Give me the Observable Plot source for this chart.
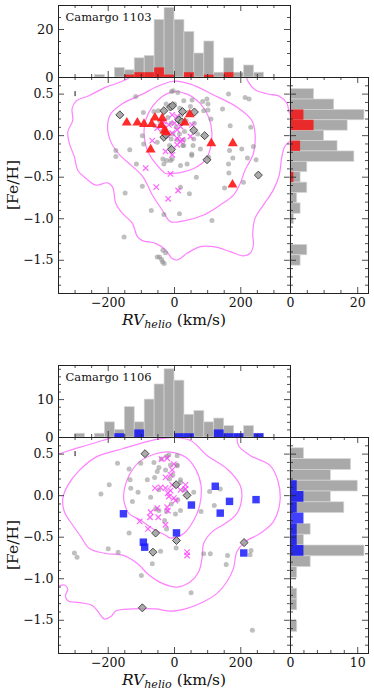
<!DOCTYPE html>
<html><head><meta charset="utf-8">
<script src="https://cdn.jsdelivr.net/npm/d3@7"></script>
<script src="https://cdn.jsdelivr.net/npm/@observablehq/plot@0.6"></script>
<style>
body{margin:0;background:white;}
#chart{position:relative;width:374px;height:693px;background:white;color:#111;overflow:hidden;}
.lab{position:absolute;font-family:"DejaVu Serif",serif;font-size:15.5px;white-space:nowrap;color:#111;}
</style></head><body><div id="chart"></div>
<script>
// ---------- RV histogram bins (km/s) ----------
const rvEdges = [-300,-270,-240,-210,-180,-150,-120,-90,-60,-30,0,30,60,90,120,150,180,210,240,270];
const rvCounts1103All = [0,0,1,0,4,3,8,9,24,29,24,19,10,15,2,8,2,5,2];
const rvCounts1103Sel = [0,0,0,0,0,1,2,2,4,1,0,2,0,1,0,2,0,0,0];
const rvCounts1106All = [1,0,1,4,2,8,4,10,14,18,15,6,7,4,5,3,1,3,1];
const rvCounts1106Sel = [0,0,0,0,1,0,2,0,0,0,1,1,0,0,2,1,1,0,1];
// ---------- [Fe/H] histogram bins ----------
const fehEdges1103 = [0.56,0.435,0.31,0.185,0.06,-0.065,-0.19,-0.315,-0.44,-0.565,-0.69,-0.815,-0.94,-1.065,-1.19,-1.315,-1.44,-1.565];
const fehCounts1103All = [7,13,22,17,10,14,19,5,3,5,2,3,1,0,0,5,3];
const fehCounts1103Sel = [0,0,4,7,0,3,0,0,1,0,0,0,0,0,0,0,0];
const fehEdges1106 = [0.57,0.44,0.31,0.18,0.05,-0.08,-0.21,-0.34,-0.47,-0.60,-0.73,-0.86,-0.99,-1.12,-1.25,-1.38,-1.51,-1.64];
const fehCounts1106All = [2,9,6,10,6,8,0,3,2,11,3,1,0,1,1,0,1];
const fehCounts1106Sel = [0,0,0,1,2,1,2,1,1,2,0,0,0,0,0,0,0];
// ---------- tick labels ----------
const rvTickLabels = [-200,0,200];
const fehTickLabels = [0.5,0,-0.5,-1,-1.5];
const histTicks1103 = [0,20];
const histTicks1106 = [0,10];
// ---------- Camargo 1103 points [RV, Fe/H] ----------
const field1103 = [[-117,0.47],[-94,0.28],[-62,0.29],[-49,0.30],[-9,0.53],[-4,0.54],[10,0.52],[28,0.42],[53,0.43],[85,0.41],[98,0.44],[101,0.38],[88,0.30],[101,0.31],[145,0.32],[163,0.50],[213,0.46],[225,0.44],[168,0.12],[230,0.10],[110,0.20],
[-97,0.00],[-93,-0.10],[-52,-0.08],[-177,-0.18],[-177,-0.25],[-135,-0.17],[-115,-0.34],[-35,-0.28],[-12,-0.30],[-32,-0.34],[-24,-0.30],[-7,-0.28],
[56,-0.12],[78,-0.16],[52,-0.22],[52,-0.24],[38,-0.34],[18,-0.36],[103,-0.26],[166,-0.18],[176,-0.27],[163,-0.34],[203,-0.16],[220,-0.27],[238,-0.13],[246,-0.29],[164,-0.45],[151,-0.63],[208,-0.56],[66,-0.50],[18,-0.62],[45,-0.70],[15,-0.94],[113,-1.02],[-97,-0.61],[-149,-0.69],[-70,-0.90],[-32,-0.95],[-152,-1.22],
[-35,-1.38],[-27,-1.41],[-45,-1.46],[-39,-1.49],[-52,-1.46],[-31,-1.54],[-36,-1.52],
[-20,0.22],[-10,0.15],[5,0.10],[20,0.25],[35,0.18],[-30,0.10],[-45,0.18],[15,0.02],[30,0.05],[40,0.28],[-5,0.02],[8,-0.05],[25,-0.12],[-15,-0.12],[60,0.15],[-60,0.12],[70,0.02],[0,0.38],[-25,0.38],[48,0.35],[16,0.33],[-38,0.05],[28,-0.05],[58,-0.04],[28,-0.12],[-10,-0.04]];
const diamonds1103 = [[-165,0.25],[-32,0.30],[-12,0.345],[-6,0.36],[24,0.29],[60,0.285],[13,0.19],[22,0.165],[58,0.065],[91,0.0],[-32,-0.02],[-26,0.01],[-9,-0.165],[98,-0.29],[253,-0.475]];
const crosses1103 = [[-7,0.25],[8,0.23],[0,0.15],[-17,0.13],[-32,0.17],[-42,0.11],[-52,0.09],[8,0.07],[18,0.11],[-7,0.03],[-22,0.01],[8,-0.03],[23,-0.05],[8,-0.11],[-7,-0.23],[48,-0.01],[53,0.13],[-67,-0.06],[-87,-0.39],[-12,-0.46],[-55,-0.62],[11,-0.66],[-19,-0.76],[18,-0.07],[-27,-0.19]];
const members1103 = [[-144,0.156],[-112,0.156],[-92,0.14],[-69,0.14],[-59,0.216],[-37,0.208],[-39,0.128],[-30,0.06],[-25,0.04],[-72,-0.168],[31,0.156],[46,0.256],[111,-0.092],[176,-0.092],[175,-0.59]];
// ---------- Camargo 1106 points ----------
const field1106 = [[-172,0.39],[-137,0.32],[-134,0.19],[-197,0.13],[-222,0.02],[-132,0.09],[-127,-0.07],[-110,0.04],[-102,0.39],[-82,0.19],[-72,-0.02],[-62,0.40],[-40,0.44],[-24,0.47],[-17,0.49],[-12,0.37],[8,0.37],[-27,0.31],[-52,0.29],[-47,0.07],[-57,-0.16],[-47,-0.18],[-24,-0.19],[18,-0.18],[3,-0.22],[18,0.19],[58,0.04],[80,-0.19],[106,0.05],[138,0.08],[120,-0.12],[-24,-0.40],[-137,-0.45],[-200,-0.64],[-170,-0.68],[-302,-0.69],[-294,-0.74],[-42,-0.67],[5,-0.63],[-67,-0.82],[-100,-0.96],[88,-0.70],[108,-0.70],[160,-0.72],[156,-0.83],[228,-0.71],[231,-0.66],[50,-1.17],[235,-1.62],[8,0.48],[8,0.36],[18,0.16],[28,0.07],[-5,0.25],[-15,0.20],[10,-0.05],[-30,-0.30],[-10,-0.10],[-47,0.34],[-60,0.22]];
const diamonds1106 = [[-89,0.505],[5,0.132],[38,0.004],[-57,-0.45],[6,-0.54],[-65,-0.68],[210,-0.565],[-97,-1.35]];
const crosses1106 = [[-39,0.44],[-22,0.45],[-2,0.38],[-7,0.31],[-27,0.22],[-12,0.25],[-59,0.09],[-42,0.10],[-27,0.09],[-12,0.06],[-17,-0.01],[-2,-0.03],[3,-0.06],[18,0.07],[33,0.13],[33,0.08],[-72,-0.20],[-74,-0.26],[-49,-0.26],[-52,-0.15],[-22,-0.14],[-20,-0.18],[-105,-0.31],[-80,-0.40],[-27,-0.35],[38,-0.68],[38,-0.72],[-7,0.13],[-20,0.03]];
const members1106 = [[-154,-0.218],[-94,-0.56],[-90,-0.62],[6,-0.448],[51,-0.113],[123,0.113],[166,-0.069],[138,-0.21],[209,-0.69],[246,-0.048]];
// ---------- density contours [RV, Fe/H] ----------
const contourInner1103 = [[-2,0.53],[38,0.50],[78,0.385],[103,0.225],[113,0.025],[108,-0.155],[93,-0.295],[58,-0.395],[18,-0.445],[-12,-0.455],[-27,-0.455],[-57,-0.335],[-82,-0.175],[-92,0.045],[-87,0.185],[-67,0.35],[-37,0.47]];
const contourMid1103 = [[-2,0.655],[48,0.62],[118,0.49],[188,0.345],[233,0.185],[243,0.025],[238,-0.215],[213,-0.415],[198,-0.575],[178,-0.715],[138,-0.835],[88,-0.955],[28,-1.025],[-12,-1.035],[-37,-0.895],[-67,-0.715],[-95,-0.495],[-127,-0.37],[-167,-0.225],[-192,-0.075],[-202,0.105],[-192,0.265],[-157,0.385],[-97,0.5],[-47,0.6]];
const contourOuterA1103 = [[-117,0.76],[-147,0.672],[-207,0.584],[-257,0.484],[-297,0.416],[-309,0.324],[-307,0.184],[-322,0.044],[-317,-0.096],[-302,-0.256],[-292,-0.416],[-267,-0.516],[-237,-0.596],[-202,-0.568],[-187,-0.616],[-177,-0.816],[-157,-0.936],[-127,-1.056],[-112,-1.216],[-97,-1.264],[-57,-1.296],[-27,-1.376],[-7,-1.48],[8,-1.496],[38,-1.416],[78,-1.336],[118,-1.336],[168,-1.396],[208,-1.448],[228,-1.416],[238,-1.316],[236,-1.176],[243,-0.996],[268,-0.836],[298,-0.656],[316,-0.476],[323,-0.276],[333,-0.128],[353,-0.056],[375,-0.01]];
const contourOuterB1103 = [[213,0.76],[223,0.644],[243,0.552],[278,0.504],[318,0.472],[340,0.384],[348,0.264],[378,0.224]];
const contourInner1106 = [[-12,0.525],[33,0.464],[63,0.324],[80,0.124],[76,-0.116],[58,-0.296],[28,-0.456],[-12,-0.51],[-27,-0.476],[-67,-0.396],[-102,-0.296],[-137,-0.216],[-152,-0.076],[-152,0.064],[-137,0.244],[-107,0.404],[-57,0.504]];
const contourMid1106 = [[-50,0.68],[0,0.70],[50,0.66],[98,0.484],[158,0.324],[198,0.124],[203,-0.036],[188,-0.216],[153,-0.336],[113,-0.436],[88,-0.576],[83,-0.756],[73,-0.916],[48,-1.036],[8,-1.1],[-37,-1.056],[-77,-0.956],[-112,-0.816],[-157,-0.716],[-207,-0.696],[-257,-0.636],[-282,-0.496],[-307,-0.356],[-332,-0.196],[-337,-0.036],[-322,0.124],[-287,0.304],[-237,0.464],[-157,0.564],[-107,0.624]];
const contourOuterA1106 = [[-375,0.47],[-357,0.492],[-347,0.504],[-317,0.544],[-267,0.604],[-217,0.664],[-187,0.704],[-157,0.764]];
const contourOuterB1106 = [[185,0.77],[188,0.724],[193,0.604],[228,0.484],[288,0.364],[313,0.164],[318,-0.076],[298,-0.316],[258,-0.456],[213,-0.556],[188,-0.676],[178,-0.876],[158,-1.036],[128,-1.176],[88,-1.276],[38,-1.356],[-12,-1.39],[-57,-1.364],[-127,-1.364],[-177,-1.388],[-192,-1.456],[-212,-1.484],[-227,-1.416],[-247,-1.324],[-287,-1.288],[-322,-1.264],[-329,-1.204],[-322,-1.124],[-332,-1.076],[-357,-1.096],[-375,-1.1]];
const errBar = {rv: -300, lo: 0.47, hi: 0.53};

// ---------- helpers ----------
const FONT = '"DejaVu Serif", serif';
const INK = "#222";
const CONTOUR = "#ff82ff";
const binRows = (edges, counts) => counts.map((n, i) => ({lo: edges[i], hi: edges[i + 1], n}));
const rows = (list) => list.flatMap(([id, pts]) => pts.map(p => ({id, rv: p[0], feh: p[1]})));
const minus = (s) => s.replace("-", "\u2212");
const rvMajor = [-200, 0, 200];
const rvMinor = d3.range(-350, 351, 50).filter(d => d % 200 !== 0);
const fehMajor = [-1.5, -1, -0.5, 0, 0.5];
const fehMinor = d3.range(-19, 8).map(d => d / 10).filter(d => Math.abs(d * 2 - Math.round(d * 2)) > 1e-6);

function ticks({xMaj = [], xMin = [], yMaj = [], yMin = [], W, H}) {
  const o = {stroke: INK, strokeWidth: 0.8};
  return [
    Plot.ruleX(xMaj, {...o, insetTop: H - 6}), Plot.ruleX(xMaj, {...o, insetBottom: H - 6}),
    Plot.ruleX(xMin, {...o, insetTop: H - 3}), Plot.ruleX(xMin, {...o, insetBottom: H - 3}),
    Plot.ruleY(yMaj, {...o, insetRight: W - 6}), Plot.ruleY(yMaj, {...o, insetLeft: W - 6}),
    Plot.ruleY(yMin, {...o, insetRight: W - 3}), Plot.ruleY(yMin, {...o, insetLeft: W - 3})
  ];
}
function place(svg, top) {
  svg.style.position = "absolute";
  svg.style.left = "0px";
  svg.style.top = top + "px";
  svg.style.background = "transparent";
  svg.style.overflow = "visible";
  svg.style.fontFamily = FONT;
  svg.style.fontSize = "12px";
  svg.style.maxWidth = "none";
  document.getElementById("chart").appendChild(svg);
}
function label(html, x, y, rotate) {
  const d = document.createElement("div");
  d.className = "lab";
  d.innerHTML = html;
  d.style.left = x + "px";
  d.style.top = y + "px";
  d.style.transform = "translate(-50%,-50%)" + (rotate ? " rotate(-90deg)" : "");
  document.getElementById("chart").appendChild(d);
}

function panel(cfg, top) {
  const baseStyle = {fontFamily: FONT, fontSize: "12px", background: "transparent", overflow: "visible"};
  // top RV histogram
  const rvMaxMinor = d3.range(0, cfg.rvMax + 0.001, cfg.rvMinorStep).filter(d => !cfg.histTicks.includes(d));
  place(Plot.plot({
    width: 374, height: 77, marginLeft: 58, marginRight: 84, marginTop: 5, marginBottom: 0,
    style: baseStyle,
    x: {domain: [-350, 350], axis: null},
    y: {domain: [0, cfg.rvMax], axis: null},
    marks: [
      Plot.rect(binRows(rvEdges, cfg.rvAll), {x1: "lo", x2: "hi", y1: 0, y2: "n", fill: "#a9a9a9", stroke: "#d6d6d6", strokeWidth: 0.7}),
      Plot.rect(binRows(rvEdges, cfg.rvSel).filter(d => d.n > 0), {x1: "lo", x2: "hi", y1: 0, y2: "n", fill: cfg.selColor, fillOpacity: 0.75}),
      ...ticks({xMaj: rvMajor, xMin: rvMinor, yMaj: cfg.histTicks, yMin: rvMaxMinor, W: 232, H: 72}),
      Plot.frame({stroke: INK, strokeWidth: 1}),
      Plot.axisY({ticks: cfg.histTicks, anchor: "left", tickSize: 0, tickPadding: 5, label: null, tickFormat: d => String(d), fontSize: 13}),
      Plot.text([cfg.name], {text: d => d, frameAnchor: "top-left", dx: 7, dy: 7, lineAnchor: "top", textAnchor: "start", fontSize: 11.5, fontFamily: FONT})
    ]
  }), top);

  // scatter
  const closed = rows([["in", cfg.inner], ["mid", cfg.mid]]);
  const open = rows([["a", cfg.outerA], ["b", cfg.outerB]]);
  const memberMark = cfg.selSymbol === "triangle"
    ? Plot.dot(cfg.members, {x: d => d[0], y: d => d[1], symbol: "triangle", r: 3.7, fill: "#ff1a1a", fillOpacity: 0.92})
    : Plot.dot(cfg.members, {x: d => d[0], y: d => d[1], symbol: "square", r: 4.2, fill: "#1a1aff", fillOpacity: 0.85});
  place(Plot.plot({
    width: 374, height: 236, marginLeft: 58, marginRight: 84, marginTop: 0, marginBottom: 20,
    style: baseStyle,
    x: {domain: [-350, 350]},
    y: {domain: [-1.9, 0.7]},
    marks: [
      Plot.line(closed, {x: "rv", y: "feh", z: "id", curve: "catmull-rom-closed", stroke: CONTOUR, strokeWidth: 1.2, clip: true}),
      Plot.line(open, {x: "rv", y: "feh", z: "id", curve: "catmull-rom", stroke: CONTOUR, strokeWidth: 1.2, clip: true}),
      Plot.dot(cfg.field, {x: d => d[0], y: d => d[1], r: 2.5, fill: "#8a8a8a", fillOpacity: 0.55}),
      Plot.dot(cfg.crosses, {x: d => d[0], y: d => d[1], symbol: "times", r: 2.6, fill: "none", stroke: "#ff3dff", strokeOpacity: 0.8, strokeWidth: 1.2}),
      Plot.dot(cfg.diamonds, {x: d => d[0], y: d => d[1], symbol: "diamond2", r: 3.6, fill: "#9c9c9c", fillOpacity: 0.85, stroke: "#3a3a3a", strokeWidth: 0.9}),
      memberMark,
      Plot.ruleX([errBar], {x: "rv", y1: "lo", y2: "hi", stroke: "#111", strokeWidth: 1}),
      ...ticks({xMaj: rvMajor, xMin: rvMinor, yMaj: fehMajor, yMin: fehMinor, W: 232, H: 216}),
      Plot.frame({stroke: INK, strokeWidth: 1}),
      Plot.axisX({ticks: rvTickLabels, anchor: "bottom", tickSize: 0, tickPadding: 5, label: null, tickFormat: d => minus(String(d)), fontSize: 12.5}),
      Plot.axisY({ticks: fehTickLabels, anchor: "left", tickSize: 0, tickPadding: 5, label: null, tickFormat: d => minus(d.toFixed(1)), fontSize: 12.5})
    ]
  }), top + 77);

  // right Fe/H histogram
  const fehHistMinor = d3.range(0, cfg.fehMax, cfg.rvMinorStep).filter(d => !cfg.histTicks.includes(d));
  place(Plot.plot({
    width: 374, height: 236, marginLeft: 290, marginRight: 6, marginTop: 0, marginBottom: 20,
    style: baseStyle,
    x: {domain: [0, cfg.fehMax]},
    y: {domain: [-1.9, 0.7], axis: null},
    marks: [
      Plot.rect(binRows(cfg.fehEdges, cfg.fehAll), {y1: "lo", y2: "hi", x1: 0, x2: "n", fill: "#a9a9a9", stroke: "#d6d6d6", strokeWidth: 0.7}),
      Plot.rect(binRows(cfg.fehEdges, cfg.fehSel).filter(d => d.n > 0), {y1: "lo", y2: "hi", x1: 0, x2: "n", fill: cfg.selColor, fillOpacity: 0.75}),
      ...ticks({xMaj: cfg.histTicks, xMin: fehHistMinor, yMaj: fehMajor, yMin: fehMinor, W: 78, H: 216}),
      Plot.frame({stroke: INK, strokeWidth: 1}),
      Plot.axisX({ticks: cfg.histTicks, anchor: "bottom", tickSize: 0, tickPadding: 5, label: null, tickFormat: d => String(d), fontSize: 12.5})
    ]
  }), top + 77);

  label("[Fe/H]", 13, top + 185, true);
  label('<span style="font-style:italic">RV<sub style="font-size:0.72em;vertical-align:-0.3em">helio</sub></span> (km/s)', 174, top + 321, false);
}

panel({
  name: "Camargo 1103", rvAll: rvCounts1103All, rvSel: rvCounts1103Sel, rvMax: 30, rvMinorStep: 5, histTicks: histTicks1103,
  fehEdges: fehEdges1103, fehAll: fehCounts1103All, fehSel: fehCounts1103Sel, fehMax: 23.2,
  selColor: "red", selSymbol: "triangle",
  field: field1103, diamonds: diamonds1103, crosses: crosses1103, members: members1103,
  inner: contourInner1103, mid: contourMid1103, outerA: contourOuterA1103, outerB: contourOuterB1103
}, 0);
panel({
  name: "Camargo 1106", rvAll: rvCounts1106All, rvSel: rvCounts1106Sel, rvMax: 19, rvMinorStep: 2, histTicks: histTicks1106,
  fehEdges: fehEdges1106, fehAll: fehCounts1106All, fehSel: fehCounts1106Sel, fehMax: 11.6,
  selColor: "blue", selSymbol: "square",
  field: field1106, diamonds: diamonds1106, crosses: crosses1106, members: members1106,
  inner: contourInner1106, mid: contourMid1106, outerA: contourOuterA1106, outerB: contourOuterB1106
}, 360);
</script></body></html>
